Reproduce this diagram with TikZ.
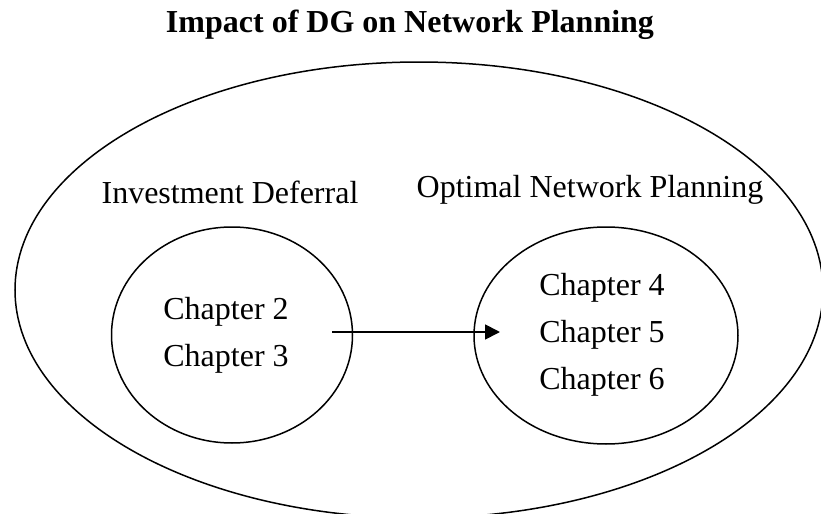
\documentclass[tikz,border=0pt]{standalone}
\usepackage{fontspec}
\setmainfont{Liberation Serif}
\usetikzlibrary{positioning, shapes.geometric, arrows.meta}

\begin{document}
\begin{tikzpicture}[x=0.5pt,y=-0.5pt,
		every node/.style={font=\fontsize{16}{23.5}\selectfont},
		ring/.style={draw,ellipse,inner sep=0pt,line width=0.75pt}]
		\useasboundingbox (0,0) rectangle (821,514);
		\clip (0,0) rectangle (821,514);
		
		\node[font=\bfseries\fontsize{16}{19}\selectfont] (title) at (410,25) {Impact of DG on Network Planning};
		% outer region and the two groups of chapters
		\node[ring,minimum width=404pt,minimum height=228pt] (impact) at (419,290) {};
		\node[ring,minimum width=120.5pt,minimum height=108pt] (deferral) at (232,335) {};
		\node[ring,minimum width=132pt,minimum height=108.5pt] (planning) at (606,335.5) {};
		
		\node (deferraltxt) at (230,192) {Investment Deferral};
		\node (planningtxt) at (590,190) {Optimal Network Planning};
		\node[align=center] (ch23) at (226,335) {Chapter 2\\Chapter 3};
		\node[align=center] (ch456) at (602,335) {Chapter 4\\Chapter 5\\Chapter 6};
		
		\coordinate (from) at (332,332);
		\coordinate (to) at (500,332);
		\draw[-{Triangle[length=7.5pt,width=7.5pt]},line width=0.9pt] (from) -- (to);
\end{tikzpicture}
\end{document}
